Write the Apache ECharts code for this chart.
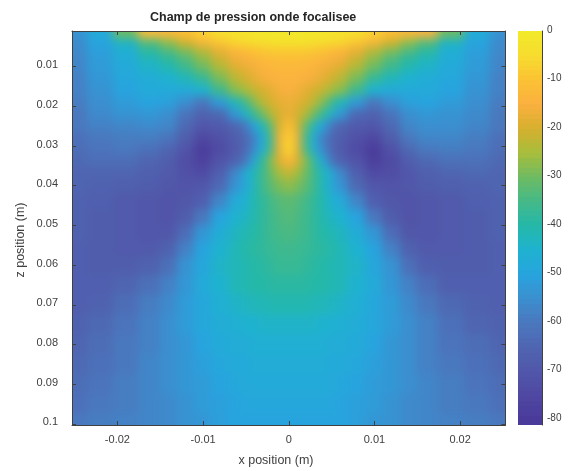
<!DOCTYPE html>
<html><head><meta charset="utf-8">
<style>html,body{margin:0;padding:0;background:#fff}#c{width:569px;height:471px}</style>
<script src="https://cdn.jsdelivr.net/npm/echarts@6/dist/echarts.min.js"></script>
</head><body><div id="c"></div>
<script>
const titleText = 'Champ de pression onde focalisee';
const xName = 'x position (m)';
const zName = 'z position (m)';
const xTicks = [-0.02,-0.01,0,0.01,0.02];
const zTicks = [0.01,0.02,0.03,0.04,0.05,0.06,0.07,0.08,0.09,0.1];
const barTicks = [0,-10,-20,-30,-40,-50,-60,-70,-80];
const xsMm = [-25,-22,-19,-16,-14,-12,-10,-8,-6,-5,-4,-3,-2,-1,0,1,2,3,4,5,6,8,10,12,14,16,19,22,25];
const zsMm = [2,4,6,8,10,13,16,19,22,25,28,31,34,37,40,44,48,52,56,60,65,70,75,80,85,90,95,100];
const field = [
[-54,-48,-30,-12,-13,-11,-7,-4,-3,-2,-2,-1,-1,-1,-1,-1,-1,-1,-2,-2,-3,-4,-7,-11,-13,-14,-30,-47,-54],
[-56,-50,-43,-33,-27,-20,-14,-9,-6,-5,-4,-4,-3,-3,-3,-3,-3,-4,-4,-5,-6,-9,-14,-20,-27,-33,-43,-50,-56],
[-56,-51,-46,-38,-33,-28,-23,-17,-13,-11,-10,-9,-8,-8,-8,-8,-8,-9,-10,-11,-13,-17,-23,-28,-33,-38,-46,-51,-56],
[-57,-52,-47,-42,-38,-33,-27,-21,-16,-15,-13,-12,-12,-11,-11,-11,-12,-12,-13,-15,-16,-21,-27,-33,-38,-42,-47,-52,-57],
[-57,-52,-48,-44,-41,-36,-30,-24,-19,-17,-16,-14,-13,-13,-13,-13,-13,-14,-16,-17,-19,-24,-30,-36,-41,-44,-48,-52,-57],
[-58,-53,-49,-47,-45,-42,-37,-29,-23,-20,-18,-16,-15,-14,-14,-14,-15,-16,-18,-20,-23,-29,-37,-42,-45,-47,-49,-53,-58],
[-58,-54,-50,-48,-48,-48,-45,-36,-28,-25,-22,-20,-18,-16,-15,-16,-18,-20,-22,-25,-28,-36,-45,-48,-48,-48,-50,-54,-58],
[-59,-55,-52,-50,-51,-55,-60,-52,-42,-35,-28,-23,-20,-18,-17,-18,-20,-23,-28,-35,-42,-52,-60,-55,-51,-50,-52,-55,-59],
[-60,-56,-54,-53,-55,-61,-66,-64,-53,-44,-37,-30,-24,-20,-17,-20,-24,-30,-37,-44,-53,-64,-66,-61,-55,-53,-54,-56,-60],
[-60,-58,-57,-56,-57,-64,-70,-69,-65,-60,-50,-42,-31,-19,-10,-19,-31,-42,-50,-60,-65,-69,-70,-64,-57,-55,-55,-57,-60],
[-62,-60,-59,-59,-61,-68,-75,-72,-68,-64,-58,-47,-35,-16,-7,-16,-35,-47,-58,-64,-68,-72,-75,-68,-60,-57,-57,-59,-62],
[-63,-61,-60,-62,-65,-71,-79,-74,-69,-64,-56,-46,-34,-17,-5,-17,-34,-46,-56,-64,-69,-74,-79,-72,-64,-60,-59,-60,-63],
[-64,-63,-63,-65,-68,-73,-77,-71,-66,-60,-48,-38,-28,-19,-13,-19,-28,-38,-48,-60,-66,-71,-78,-74,-68,-64,-62,-62,-64],
[-65,-65,-65,-67,-69,-72,-74,-67,-57,-47,-42,-36,-30,-25,-22,-25,-30,-36,-42,-47,-57,-67,-74,-73,-70,-67,-65,-64,-65],
[-65,-66,-67,-68,-70,-71,-70,-64,-54,-48,-42,-36,-32,-29,-27,-29,-32,-36,-42,-48,-54,-64,-70,-71,-70,-68,-67,-66,-65],
[-66,-67,-69,-70,-71,-70,-67,-57,-48,-45,-41,-38,-35,-33,-32,-33,-35,-38,-41,-45,-48,-57,-67,-70,-71,-70,-69,-67,-66],
[-66,-68,-69,-70,-71,-68,-60,-50,-45,-43,-41,-38,-36,-34,-33,-34,-36,-38,-41,-43,-45,-50,-60,-68,-71,-70,-69,-68,-66],
[-66,-68,-69,-70,-70,-63,-53,-47,-43,-41,-40,-38,-36,-35,-34,-35,-36,-38,-40,-41,-43,-47,-53,-63,-70,-70,-69,-68,-66],
[-67,-68,-69,-69,-66,-58,-50,-45,-42,-40,-39,-38,-37,-36,-36,-36,-37,-38,-39,-40,-42,-45,-50,-58,-66,-69,-69,-68,-67],
[-67,-68,-68,-66,-62,-54,-49,-44,-42,-41,-40,-39,-38,-37,-37,-37,-38,-39,-40,-41,-42,-44,-49,-54,-62,-67,-68,-68,-67],
[-67,-67,-65,-62,-58,-53,-48,-45,-42,-41,-40,-40,-39,-39,-39,-39,-39,-40,-40,-41,-42,-45,-48,-53,-58,-63,-67,-67,-67],
[-67,-66,-63,-59,-56,-52,-49,-46,-44,-43,-42,-42,-41,-41,-41,-41,-41,-42,-42,-43,-44,-46,-49,-52,-56,-60,-64,-66,-67],
[-66,-64,-61,-58,-55,-52,-49,-47,-46,-45,-45,-44,-44,-44,-44,-44,-44,-44,-45,-45,-46,-47,-49,-52,-55,-58,-62,-65,-66],
[-65,-63,-60,-58,-55,-53,-50,-48,-47,-47,-46,-46,-46,-46,-46,-46,-46,-46,-46,-47,-47,-48,-50,-53,-55,-58,-61,-63,-65],
[-64,-62,-60,-57,-55,-53,-51,-49,-48,-48,-47,-47,-47,-47,-47,-47,-47,-47,-47,-48,-48,-49,-51,-53,-55,-58,-60,-62,-64],
[-63,-61,-59,-57,-55,-53,-52,-50,-49,-48,-48,-48,-48,-48,-48,-48,-48,-48,-48,-48,-49,-50,-52,-53,-55,-57,-59,-61,-63],
[-62,-60,-59,-57,-56,-54,-52,-51,-50,-49,-49,-49,-49,-49,-49,-49,-49,-49,-49,-49,-50,-51,-52,-54,-56,-57,-59,-60,-62],
[-60,-59,-58,-57,-56,-54,-53,-51,-50,-50,-50,-50,-50,-50,-50,-50,-50,-50,-50,-50,-50,-51,-53,-54,-56,-57,-58,-59,-60]
];
const rampColors = ['#4a3a9a','#4f48a2','#5157aa','#4f65b2','#4a78be','#3b8fcf','#27a4de','#1fb2d0','#24b8a8','#45b988','#6fbb62','#a8bd3c','#d6b02e','#fbb040','#fbc234','#f7dc2e','#f1ea2a'];

const textColor = '#404040', lineColor = '#404040', fontName = 'Liberation Sans';
const heatData = [];
zsMm.forEach((z,j)=>xsMm.forEach((x,i)=>heatData.push([x/1000,z/1000,field[j][i]])));
function edges(a){ const e=[a[0]-30]; for(let i=0;i<a.length-1;i++) e.push((a[i]+a[i+1])/2); e.push(a[a.length-1]+30); return e; }
const xe=edges(xsMm), ze=edges(zsMm);
const barStep = 81.2/81, barLevels=[];
for(let i=0;i<81;i++) barLevels.push([0.5,-81.2+(i+0.5)*barStep,-81.2+(i+0.5)*barStep]);

function cellRect(params,api){
  const i=params.dataIndex%xsMm.length, j=Math.floor(params.dataIndex/xsMm.length);
  const a=api.coord([xe[i]/1000,ze[j]/1000]), b=api.coord([xe[i+1]/1000,ze[j+1]/1000]);
  const x0=Math.floor(Math.min(a[0],b[0])),x1=Math.ceil(Math.max(a[0],b[0]));
  const y0=Math.floor(Math.min(a[1],b[1])),y1=Math.ceil(Math.max(a[1],b[1]));
  return {type:'rect',shape:{x:x0,y:y0,width:x1-x0,height:y1-y0},style:{fill:api.visual('color')}};
}
function barRect(params,api){
  const v=api.value(1);
  const a=api.coord([0,v+barStep/2]), b=api.coord([1,v-barStep/2]);
  const y0=Math.floor(a[1]),y1=Math.ceil(b[1]);
  return {type:'rect',shape:{x:a[0],y:y0,width:b[0]-a[0],height:y1-y0},style:{fill:api.visual('color')}};
}
const xMin=-0.0253,xMax=0.0253,zMin=0.001,zMax=0.1003,barMin=-81.2,barMax=0;
const gridA={left:72,top:31,width:433.5,height:394};
const tick={show:true,inside:true,length:4,lineStyle:{color:lineColor,width:1}};
const line={show:true,onZero:false,lineStyle:{color:lineColor,width:1}};
const lab={color:textColor,fontFamily:fontName,fontSize:11};
const nameStyle={fill:textColor,font:'12.5px "Liberation Sans"',textAlign:'center',textVerticalAlign:'middle'};
const chart=echarts.init(document.getElementById('c'),null,{renderer:'canvas'});
chart.setOption({
  animation:false,
  title:{text:titleText,left:145,top:6,textStyle:{fontFamily:fontName,fontSize:12.5,fontWeight:'bold',color:'#262626'}},
  grid:[gridA,{left:518,top:31,width:24,height:394}],
  graphic:[
    {type:'text',x:276,y:461,silent:true,style:{...nameStyle,text:xName}},
    {type:'text',x:21,y:240,rotation:Math.PI/2,silent:true,style:{...nameStyle,text:zName}}
  ],
  visualMap:{show:false,type:'continuous',min:-80,max:0,dimension:2,seriesIndex:[0,1],inRange:{color:rampColors}},
  xAxis:[
    {type:'value',gridIndex:0,min:xMin,max:xMax,position:'bottom',axisLine:line,splitLine:{show:false},
     axisTick:{...tick,customValues:xTicks},axisLabel:{...lab,margin:9,customValues:xTicks,formatter:v=>String(v)}},
    {type:'value',gridIndex:0,min:xMin,max:xMax,position:'top',axisLine:line,splitLine:{show:false},
     axisTick:{...tick,customValues:xTicks},axisLabel:{show:false}},
    {type:'value',gridIndex:1,min:0,max:1,show:false}
  ],
  yAxis:[
    {type:'value',gridIndex:0,inverse:true,min:zMin,max:zMax,position:'left',axisLine:line,splitLine:{show:false},
     axisTick:{...tick,customValues:zTicks},axisLabel:{...lab,margin:14,customValues:zTicks,formatter:v=>'{a|'+v+'}',rich:{a:{...lab,padding:[0,0,3,0]}}}},
    {type:'value',gridIndex:0,inverse:true,min:zMin,max:zMax,position:'right',axisLine:line,splitLine:{show:false},
     axisTick:{...tick,customValues:zTicks},axisLabel:{show:false}},
    {type:'value',gridIndex:1,min:barMin,max:barMax,position:'right',axisLine:line,splitLine:{show:false},
     axisTick:{...tick,length:3,customValues:barTicks},axisLabel:{...lab,fontSize:10,margin:5,customValues:barTicks,formatter:v=>'{a|'+v+'}',rich:{a:{...lab,fontSize:10,padding:[0,0,2,0]}}}}
  ],
  series:[
    {type:'custom',name:'pression',zlevel:-1,xAxisIndex:0,yAxisIndex:0,clip:false,coordinateSystem:'cartesian2d',
     data:heatData,encode:{x:0,y:1},renderItem:cellRect,silent:true},
    {type:'custom',name:'echelle',xAxisIndex:2,yAxisIndex:2,coordinateSystem:'cartesian2d',
     data:barLevels,encode:{x:0,y:1},renderItem:barRect,silent:true}
  ]
});
const layer=document.querySelector('#c canvas[data-zr-dom-id="zr_-1"]');
if(layer){
  layer.style.filter='blur(5px)';
  layer.style.clipPath='inset(31px 64px 46px 72px)';
}
</script></body></html>
